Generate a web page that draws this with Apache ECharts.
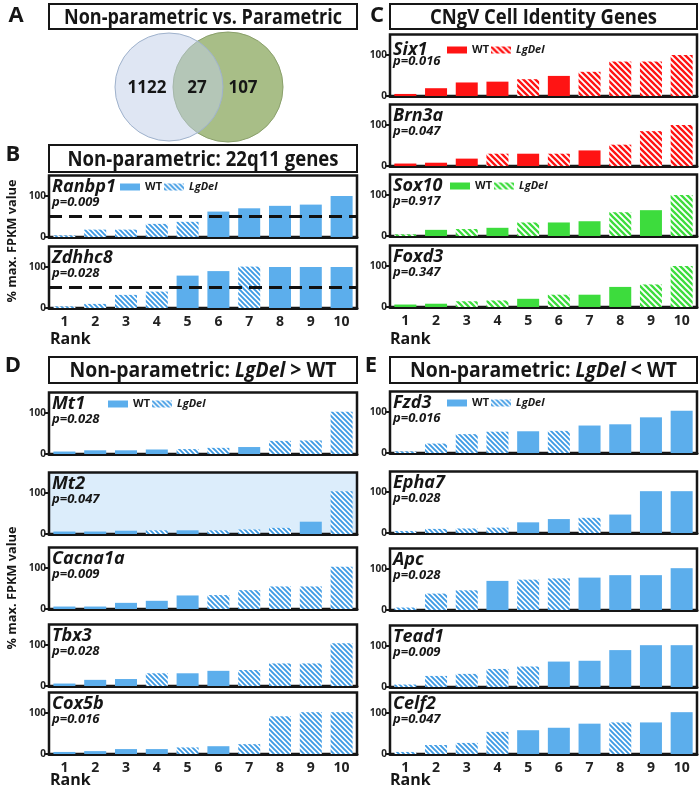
<!DOCTYPE html>
<html>
<head>
<meta charset="utf-8">
<script src="https://cdn.jsdelivr.net/npm/echarts@6/dist/echarts.min.js"></script>
<style>
html, body { margin: 0; padding: 0; background: #fff; }
#chart { width: 700px; height: 789px; }
</style>
</head>
<body>
<div id="chart"></div>
<script>
var ranks = ['1', '2', '3', '4', '5', '6', '7', '8', '9', '10'];
var vennCounts = [1122, 27, 107];
var threshold = 50;

// genotype per rank: W = WT, L = LgDel
var ranbp1 = [4, 18, 18, 32, 37, 62, 70, 76, 79, 100];
var ranbp1Geno = ['L', 'L', 'L', 'L', 'L', 'W', 'W', 'W', 'W', 'W'];
var zdhhc8 = [4, 10, 32, 40, 79, 90, 101, 100, 100, 100];
var zdhhc8Geno = ['L', 'L', 'L', 'L', 'W', 'W', 'L', 'W', 'W', 'W'];

var six1 = [5, 19, 33, 35, 41, 49, 59, 84, 84, 100];
var six1Geno = ['W', 'W', 'W', 'W', 'L', 'W', 'L', 'L', 'L', 'L'];
var brn3a = [6, 8, 18, 30, 30, 30, 38, 52, 85, 100];
var brn3aGeno = ['W', 'W', 'W', 'L', 'W', 'L', 'W', 'L', 'L', 'L'];
var sox10 = [4, 15, 17, 20, 33, 33, 36, 58, 63, 100];
var sox10Geno = ['L', 'W', 'L', 'W', 'L', 'W', 'W', 'L', 'W', 'L'];
var foxd3 = [6, 8, 14, 16, 20, 30, 30, 49, 55, 100];
var foxd3Geno = ['W', 'W', 'L', 'L', 'W', 'L', 'W', 'W', 'L', 'L'];

var mt1 = [6, 9, 9, 11, 12, 15, 17, 32, 33, 103];
var mt1Geno = ['W', 'W', 'W', 'W', 'L', 'L', 'W', 'L', 'L', 'L'];
var mt2 = [6, 6, 8, 9, 9, 9, 11, 15, 30, 104];
var mt2Geno = ['W', 'W', 'W', 'L', 'W', 'L', 'L', 'L', 'W', 'L'];
var cacna1a = [6, 6, 15, 20, 33, 34, 46, 55, 55, 103];
var cacna1aGeno = ['W', 'W', 'W', 'W', 'W', 'L', 'L', 'L', 'L', 'L'];
var tbx3 = [6, 15, 17, 31, 31, 37, 39, 55, 55, 104];
var tbx3Geno = ['W', 'W', 'W', 'L', 'W', 'W', 'L', 'L', 'L', 'L'];
var cox5b = [5, 7, 12, 12, 16, 19, 24, 92, 102, 102];
var cox5bGeno = ['W', 'W', 'W', 'W', 'L', 'W', 'L', 'L', 'L', 'L'];

var fzd3 = [4, 23, 46, 52, 53, 54, 67, 70, 87, 103];
var fzd3Geno = ['L', 'L', 'L', 'L', 'W', 'L', 'W', 'W', 'W', 'W'];
var epha7 = [5, 10, 11, 13, 26, 34, 37, 45, 102, 102];
var epha7Geno = ['L', 'L', 'L', 'L', 'W', 'W', 'L', 'W', 'W', 'W'];
var apc = [6, 40, 48, 71, 74, 77, 79, 85, 85, 102];
var apcGeno = ['L', 'L', 'L', 'W', 'L', 'L', 'W', 'W', 'W', 'W'];
var tead1 = [6, 27, 32, 44, 50, 62, 64, 90, 102, 102];
var tead1Geno = ['L', 'L', 'L', 'L', 'L', 'W', 'W', 'W', 'W', 'W'];
var celf2 = [5, 22, 27, 54, 58, 64, 74, 77, 77, 102];
var celf2Geno = ['L', 'L', 'L', 'L', 'W', 'W', 'W', 'L', 'W', 'W'];

var FONT = 'Open Sans';

function hatch(color, size, lw) {
    var c = document.createElement('canvas');
    c.width = size;
    c.height = size;
    var ctx = c.getContext('2d');
    ctx.fillStyle = '#fff';
    ctx.fillRect(0, 0, size, size);
    ctx.strokeStyle = color;
    ctx.lineWidth = lw;
    ctx.beginPath();
    [-size, 0, size].forEach(function (k) {
        ctx.moveTo(k - 1, -1);
        ctx.lineTo(k + size + 1, size + 1);
    });
    ctx.stroke();
    return { image: c, repeat: 'repeat' };
}

var palettes = {
    blue: { solid: '#5caeec', stripe: hatch('#3f9be4', 5, 1.9) },
    red: { solid: '#ff1414', stripe: hatch('#ff1414', 6, 2.4) },
    green: { solid: '#3ddc3d', stripe: hatch('#3ddc3d', 6, 2.3) }
};

var cols = { left: { x: 49, w: 308 }, right: { x: 390, w: 307 } };
var H = 61.5;

var plots = [
    { gene: 'Ranbp1', p: 'p=0.009', values: ranbp1, geno: ranbp1Geno, col: 'left', zero: 237, pal: 'blue', legend: 120, dash: true },
    { gene: 'Zdhhc8', p: 'p=0.028', values: zdhhc8, geno: zdhhc8Geno, col: 'left', zero: 308, pal: 'blue', dash: true, bottom: true },
    { gene: 'Six1', p: 'p=0.016', values: six1, geno: six1Geno, col: 'right', zero: 96, pal: 'red', legend: 447, dy: 4 },
    { gene: 'Brn3a', p: 'p=0.047', values: brn3a, geno: brn3aGeno, col: 'right', zero: 166, pal: 'red' },
    { gene: 'Sox10', p: 'p=0.917', values: sox10, geno: sox10Geno, col: 'right', zero: 236, pal: 'green', legend: 450 },
    { gene: 'Foxd3', p: 'p=0.347', values: foxd3, geno: foxd3Geno, col: 'right', zero: 307, pal: 'green', bottom: true },
    { gene: 'Mt1', p: 'p=0.028', values: mt1, geno: mt1Geno, col: 'left', zero: 454, pal: 'blue', legend: 108 },
    { gene: 'Mt2', p: 'p=0.047', values: mt2, geno: mt2Geno, col: 'left', zero: 534, pal: 'blue', bg: '#dcedfb' },
    { gene: 'Cacna1a', p: 'p=0.009', values: cacna1a, geno: cacna1aGeno, col: 'left', zero: 609, pal: 'blue' },
    { gene: 'Tbx3', p: 'p=0.028', values: tbx3, geno: tbx3Geno, col: 'left', zero: 686, pal: 'blue' },
    { gene: 'Cox5b', p: 'p=0.016', values: cox5b, geno: cox5bGeno, col: 'left', zero: 754, pal: 'blue', bottom: true },
    { gene: 'Fzd3', p: 'p=0.016', values: fzd3, geno: fzd3Geno, col: 'right', zero: 453, pal: 'blue', legend: 447 },
    { gene: 'Epha7', p: 'p=0.028', values: epha7, geno: epha7Geno, col: 'right', zero: 533, pal: 'blue' },
    { gene: 'Apc', p: 'p=0.028', values: apc, geno: apcGeno, col: 'right', zero: 610, pal: 'blue' },
    { gene: 'Tead1', p: 'p=0.009', values: tead1, geno: tead1Geno, col: 'right', zero: 687, pal: 'blue' },
    { gene: 'Celf2', p: 'p=0.047', values: celf2, geno: celf2Geno, col: 'right', zero: 754, pal: 'blue', bottom: true }
];

var measureCtx = document.createElement('canvas').getContext('2d');
function textWidth(style, size, s) {
    measureCtx.font = style + ' bold ' + size + 'px "' + FONT + '"';
    return measureCtx.measureText(s).width;
}

var grids = [], xAxes = [], yAxes = [], series = [], legends = [], graphics = [];

plots.forEach(function (pl, i) {
    var c = cols[pl.col];
    var pal = palettes[pl.pal];
    grids.push({
        left: c.x, top: pl.zero - H, width: c.w, height: H,
        show: true, borderColor: '#161616', borderWidth: 2.5,
        backgroundColor: pl.bg || 'transparent',
        outerBoundsMode: 'none'
    });
    xAxes.push({
        gridIndex: i, type: 'category', data: ranks,
        axisLine: { lineStyle: { color: '#161616', width: 3 } },
        axisTick: { show: false },
        axisLabel: { show: !!pl.bottom, color: '#222', fontSize: 14, fontWeight: 'bold', fontFamily: FONT, margin: 7 }
    });
    yAxes.push({
        gridIndex: i, type: 'value', min: 0, max: 150,
        axisLine: { show: false },
        splitLine: { show: false },
        axisTick: { show: true, length: 5, customValues: [0, 100], lineStyle: { color: '#161616', width: 2 } },
        axisLabel: { customValues: [0, 100], color: '#222', fontSize: 10, fontWeight: 'bold', fontFamily: FONT, margin: 3 }
    });
    var wt = {
        type: 'bar', name: 'WT|' + pl.pal, xAxisIndex: i, yAxisIndex: i, stack: 's' + i,
        barWidth: 22,
        data: pl.values.map(function (v, k) { return pl.geno[k] === 'W' ? v : '-'; }),
        itemStyle: { color: pal.solid }
    };
    var lg = {
        type: 'bar', name: 'LgDel|' + pl.pal, xAxisIndex: i, yAxisIndex: i, stack: 's' + i,
        barWidth: 22,
        data: pl.values.map(function (v, k) { return pl.geno[k] === 'L' ? v : '-'; }),
        itemStyle: { color: pal.stripe }
    };
    if (pl.dash) {
        wt.markLine = {
            silent: true, symbol: ['none', 'none'], label: { show: false },
            lineStyle: { color: '#111', width: 3, type: [13, 7] },
            data: [{ yAxis: threshold }]
        };
    }
    series.push(wt, lg);

    var dy = pl.dy || 0;
    graphics.push({
        type: 'text', x: c.x + 3, y: pl.zero - 50 + dy,
        style: { text: pl.gene, font: 'italic bold 18px "' + FONT + '"', fill: '#161616', verticalAlign: 'middle' }
    });
    graphics.push({
        type: 'text', x: c.x + 3, y: pl.zero - 35,
        style: { text: pl.p, font: 'italic bold 13px "' + FONT + '"', fill: '#161616', verticalAlign: 'middle' }
    });

    if (pl.legend) {
        legends.push({
            left: pl.legend, top: pl.zero - 50 + dy - 6, padding: 0,
            itemWidth: 20, itemHeight: 7, itemGap: 2, icon: 'rect', selectedMode: false,
            data: ['WT|' + pl.pal, 'LgDel|' + pl.pal],
            formatter: function (n) { return n.indexOf('WT') === 0 ? '{w|WT}' : '{l|LgDel}'; },
            textStyle: {
                lineHeight: 12,
                rich: {
                    w: { fontSize: 11, fontWeight: 'bold', fontFamily: FONT, color: '#1a1a1a', lineHeight: 12 },
                    l: { fontSize: 11, fontWeight: 'bold', fontStyle: 'italic', fontFamily: FONT, color: '#1a1a1a', lineHeight: 12 }
                }
            }
        });
    }
});

// panel header boxes
function header(x, y, w, h, segs, targetW) {
    var size = 22;
    var natural = 0;
    var text = '';
    segs.forEach(function (s) {
        natural += textWidth(s.i ? 'italic' : 'normal', size, s.t);
        text += '{' + (s.i ? 'i' : 'n') + '|' + s.t + '}';
    });
    graphics.push({
        type: 'rect', shape: { x: x, y: y, width: w, height: h },
        style: { fill: '#fff', stroke: '#161616', lineWidth: 2 }
    });
    graphics.push({
        type: 'text', x: x + w / 2, y: y + h / 2 + 1, scaleX: targetW / natural,
        style: {
            text: text, align: 'center', verticalAlign: 'middle',
            rich: {
                n: { fontSize: size, fontWeight: 'bold', fontFamily: FONT, fill: '#161616' },
                i: { fontSize: size, fontWeight: 'bold', fontStyle: 'italic', fontFamily: FONT, fill: '#161616' }
            }
        }
    });
}
header(49, 4, 308, 25, [{ t: 'Non-parametric vs. Parametric' }], 278);
header(49, 145, 308, 27, [{ t: 'Non-parametric: 22q11 genes' }], 271);
header(390, 4, 307, 25, [{ t: 'CNgV Cell Identity Genes' }], 227);
header(49, 357, 308, 26, [{ t: 'Non-parametric: ' }, { t: 'LgDel', i: true }, { t: ' > WT' }], 267);
header(390, 357, 307, 26, [{ t: 'Non-parametric: ' }, { t: 'LgDel', i: true }, { t: ' < WT' }], 267);

// panel letters
[['A', 16, 16], ['B', 13, 155], ['C', 377, 16], ['D', 13, 366], ['E', 371, 366]].forEach(function (l) {
    graphics.push({
        type: 'text', x: l[1], y: l[2],
        style: { text: l[0], font: 'bold 22px "' + FONT + '"', fill: '#161616', align: 'center', verticalAlign: 'middle' }
    });
});

// Rank labels
[[50, 339], [390, 339], [50, 780], [390, 780]].forEach(function (r) {
    graphics.push({
        type: 'text', x: r[0], y: r[1],
        style: { text: 'Rank', font: 'bold 16px "' + FONT + '"', fill: '#161616', verticalAlign: 'middle' }
    });
});

// y axis names
var yName = '% max. FPKM value';
var yNameScale = 123 / textWidth('normal', 13, yName);
[241, 588].forEach(function (cy) {
    graphics.push({
        type: 'text', x: 12, y: cy, rotation: Math.PI / 2, scaleX: yNameScale,
        style: { text: yName, font: 'bold 13px "' + FONT + '"', fill: '#161616', align: 'center', verticalAlign: 'middle' }
    });
});

// Venn diagram
graphics.push({
    type: 'circle', shape: { cx: 228, cy: 87, r: 55 },
    style: { fill: 'rgb(168,190,135)', stroke: '#8aa06b', lineWidth: 1 }
});
graphics.push({
    type: 'circle', shape: { cx: 169, cy: 87, r: 54 },
    style: { fill: 'rgba(191,205,231,0.5)', stroke: '#9fb2cc', lineWidth: 1 }
});
[147, 197, 243].forEach(function (cx, k) {
    graphics.push({
        type: 'text', x: cx, y: 88,
        style: { text: String(vennCounts[k]), font: 'bold 17px "' + FONT + '"', fill: '#161616', align: 'center', verticalAlign: 'middle' }
    });
});

var myChart = echarts.init(document.getElementById('chart'));
myChart.setOption({
    animation: false,
    backgroundColor: '#fff',
    textStyle: { fontFamily: FONT },
    grid: grids,
    xAxis: xAxes,
    yAxis: yAxes,
    legend: legends,
    series: series,
    graphic: graphics
});
</script>
</body>
</html>
